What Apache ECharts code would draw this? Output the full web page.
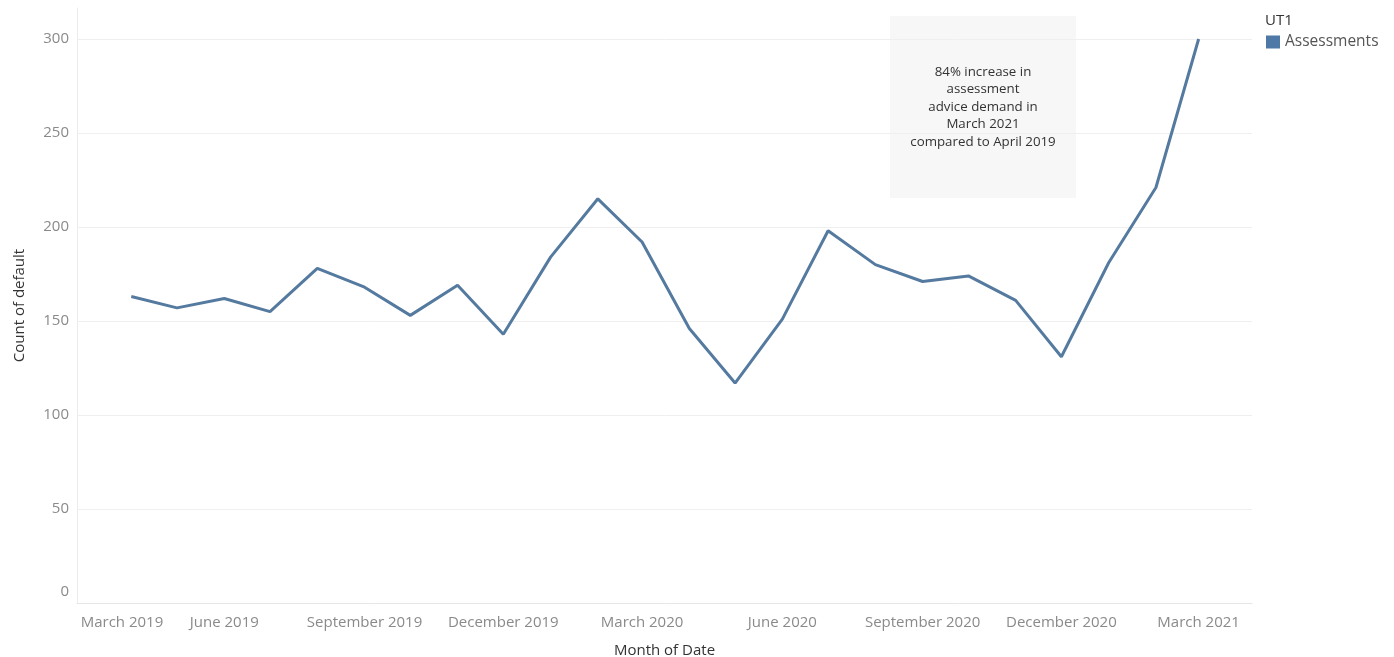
<!DOCTYPE html>
<html>
<head>
<meta charset="utf-8">
<script src="https://cdn.jsdelivr.net/npm/echarts@6/dist/echarts.min.js"></script>
<style>
html,body{margin:0;padding:0;background:#fff;}
#chart{width:1394px;height:657px;}
</style>
</head>
<body>
<div id="chart"></div>
<script>
// ---- data ----
var months = ['2019-04-01','2019-05-01','2019-06-01','2019-07-01','2019-08-01','2019-09-01','2019-10-01','2019-11-01','2019-12-01','2020-01-01','2020-02-01','2020-03-01','2020-04-01','2020-05-01','2020-06-01','2020-07-01','2020-08-01','2020-09-01','2020-10-01','2020-11-01','2020-12-01','2021-01-01','2021-02-01','2021-03-01'];
var assessments = [163,157,162,155,178,168,153,169,143,184,215,192,146,117,151,198,180,171,174,161,131,181,221,300];
var tickDates = ['2019-03-01','2019-06-01','2019-09-01','2019-12-01','2020-03-01','2020-06-01','2020-09-01','2020-12-01','2021-03-01'];
var tickLabels = ['March 2019','June 2019','September 2019','December 2019','March 2020','June 2020','September 2020','December 2020','March 2021'];
var yTicks = [0,50,100,150,200,250,300];
var seriesName = 'Assessments';
var legendTitle = 'UT1';
var note = '84% increase in\nassessment\nadvice demand in\nMarch 2021\ncompared to April 2019';

function ts(s){ var p = s.split('-'); return Date.UTC(+p[0], +p[1]-1, +p[2]); }
var tickTs = tickDates.map(ts);
var seriesData = months.map(function(m,i){ return [ts(m), assessments[i]]; });

var FONT = '"Open Sans", sans-serif';
var LBL = '#8a8a8a';
var chart = echarts.init(document.getElementById('chart'));
chart.setOption({
  animation: false,
  textStyle: {fontFamily: FONT},
  grid: {left: 77, right: 142, top: 8, bottom: 54, containLabel: false, outerBoundsMode: 'none'},
  xAxis: {
    type: 'value',
    min: Date.UTC(2019,1,24,10),
    max: Date.UTC(2021,3,5,0),
    name: 'Month of Date',
    nameLocation: 'middle',
    nameGap: 40,
    nameTextStyle: {color: '#333', fontSize: 15, fontFamily: FONT},
    axisLine: {show: true, lineStyle: {color: '#e6e6e6', width: 1}},
    axisTick: {show: false},
    splitLine: {show: false},
    axisLabel: {
      customValues: tickTs,
      color: LBL, fontSize: 15, fontFamily: FONT, margin: 12,
      formatter: function(v){
        var best = 0;
        for (var k=0;k<tickTs.length;k++){ if (Math.abs(tickTs[k]-v) < Math.abs(tickTs[best]-v)) best=k; }
        return best === 0 ? '{first|' + tickLabels[best] + '}' : tickLabels[best];
      },
      rich: {first: {padding: [0,0,0,76], color: LBL, fontSize: 15, fontFamily: FONT}}
    }
  },
  yAxis: {
    type: 'value',
    min: 0,
    max: 316.5,
    name: 'Count of default',
    nameLocation: 'middle',
    nameGap: 50,
    nameRotate: 90,
    nameTextStyle: {color: '#333', fontSize: 15, fontFamily: FONT},
    axisLine: {show: true, lineStyle: {color: '#ececec', width: 1}},
    axisTick: {show: false},
    splitLine: {show: true, showMaxLine: false, showMinLine: false, lineStyle: {color: '#efefef', width: 1}},
    axisLabel: {
      customValues: yTicks,
      color: LBL, fontSize: 15, fontFamily: FONT, margin: 8,
      formatter: function(v){ return v === 0 ? '{z|0}' : String(v); },
      rich: {z: {padding: [0,0,22,0], color: LBL, fontSize: 15, fontFamily: FONT}}
    }
  },
  legend: {
    left: 1266, top: 34, padding: 0,
    itemWidth: 14, itemHeight: 13, itemGap: 5,
    icon: 'rect',
    textStyle: {color: '#555', fontSize: 15.5, fontFamily: FONT},
    data: [seriesName]
  },
  graphic: [
    {type: 'text', left: 1265, top: 13, style: {text: legendTitle, fill: '#333', font: '15px "Open Sans", sans-serif'}},
    {type: 'rect', shape: {x: 890, y: 16, width: 186, height: 182}, style: {fill: '#f7f7f7'}, z: 0},
    {type: 'text', x: 983, y: 107, style: {text: note, fill: '#333', font: '13.3px "Open Sans", sans-serif', align: 'center', verticalAlign: 'middle', lineHeight: 17.5}, z: 1}
  ],
  series: [{
    name: seriesName,
    type: 'line',
    data: seriesData,
    showSymbol: false,
    symbol: 'none',
    color: '#4e79a7',
    lineStyle: {color: '#557a9f', width: 3},
    z: 3
  }]
});
</script>
</body>
</html>
